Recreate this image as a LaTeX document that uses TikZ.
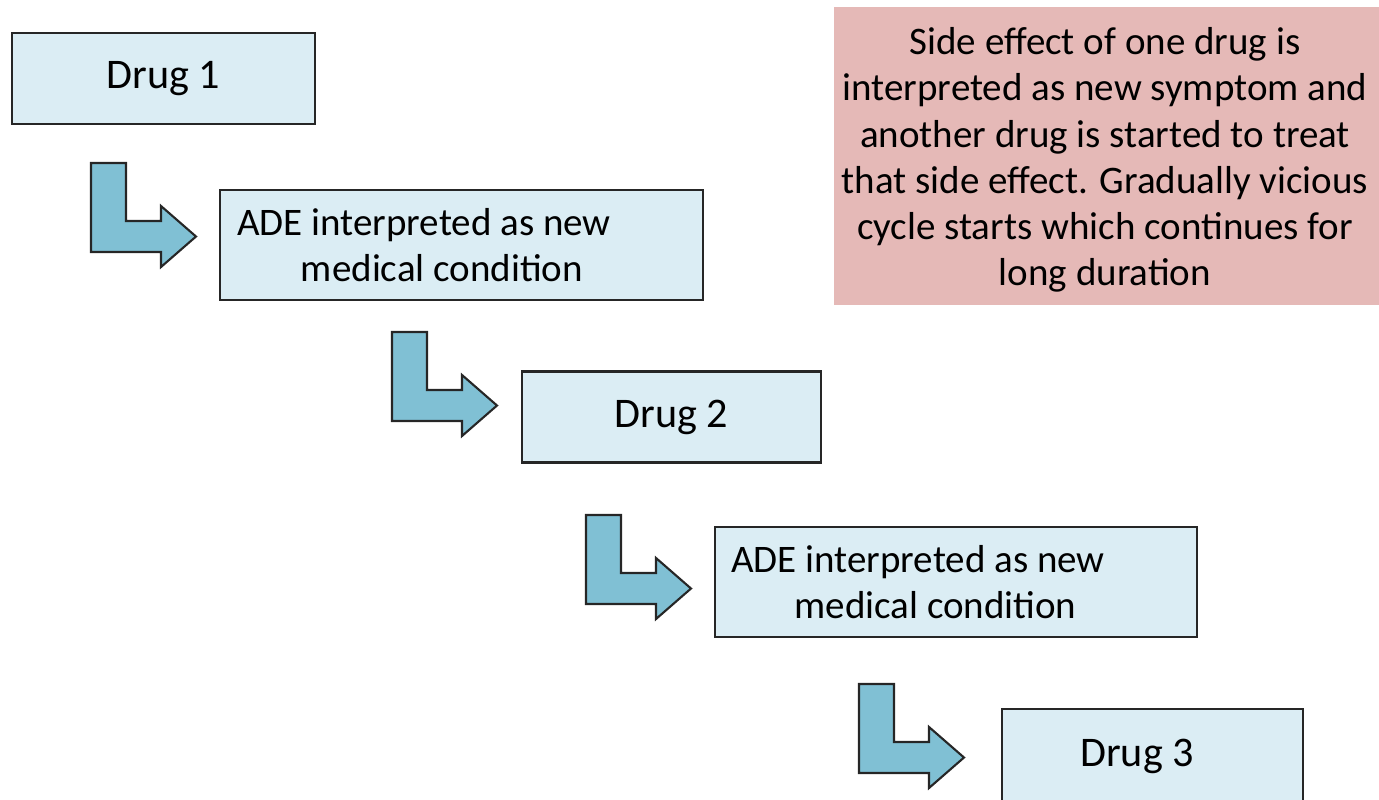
\documentclass[tikz,border=0pt]{standalone}
\usepackage{xcolor}
\usepackage{fontspec}
\setmainfont{Carlito}
\usetikzlibrary{positioning,calc}

\definecolor{boxblue}{RGB}{219,237,244}
\definecolor{arrowblue}{RGB}{128,192,212}
\definecolor{notepink}{RGB}{229,185,183}
\definecolor{edgegray}{RGB}{38,38,38}

\tikzset{
  drugbox/.style={draw=edgegray, line width=1.2pt, fill=boxblue, inner sep=0pt,
    minimum width=6cm, minimum height=1.82cm, font=\fontsize{24}{28}\selectfont},
  adebox/.style={draw=edgegray, line width=1.2pt, fill=boxblue, inner sep=0pt,
    minimum width=9.66cm, minimum height=2.2cm},
  txt/.style={align=center, inner sep=0pt, font=\fontsize{22.2}{26.3}\selectfont},
  notebox/.style={fill=notepink, inner sep=0pt, minimum width=10.9cm, minimum height=5.96cm},
  bent/.style={draw=edgegray, line width=1.2pt, fill=arrowblue, line join=miter}
}

% bent arrow, #1 = top left corner of the stem
\newcommand{\bentarrow}[1]{%
  \draw[bent, shift={#1}] (0,0) -- (35,0) -- (35,58) -- (70,58) -- (70,43)
    -- (105,73.5) -- (70,104) -- (70,89) -- (0,89) -- cycle;}

\begin{document}
\begin{tikzpicture}[x=0.02cm, y=-0.02cm]
\useasboundingbox (0,0) rectangle (1379,799);

% note
\node[notebox] (note) at (1106.5,156) {};
\node[txt] (notetext) at (1105,160) {Side effect of one drug is\\
  interpreted as new symptom and\\
  another drug is started to treat\\
  that side effect. Gradually vicious\\
  cycle starts which continues for\\
  long duration};

% boxes
\node[drugbox, minimum width=6.06cm] (drug1) at (163.5,78.5) {Drug 1};
\node[adebox] (ade1) at (461.5,245) {};
\node[txt] (ade1text) at (424,245) {ADE interpreted as new\\ medical condition\hspace*{-0.72cm}};
\node[drugbox, minimum width=5.98cm] (drug2) at (671.5,417) {Drug 2};
\node[adebox, minimum width=9.64cm] (ade2) at (956,582) {};
\node[txt] (ade2text) at (918,582) {ADE interpreted as new\\ medical condition\hspace*{-0.7cm}};
\node[drugbox, minimum width=6.02cm, minimum height=1.94cm] (drug3) at (1152.5,757.5) {};
\node[txt, font=\fontsize{24}{28}\selectfont] (drug3text) at (1137,756) {Drug 3};

% arrows
\bentarrow{(91,163)}
\bentarrow{(392,332)}
\bentarrow{(586,515)}
\bentarrow{(859,684)}
\end{tikzpicture}
\end{document}
